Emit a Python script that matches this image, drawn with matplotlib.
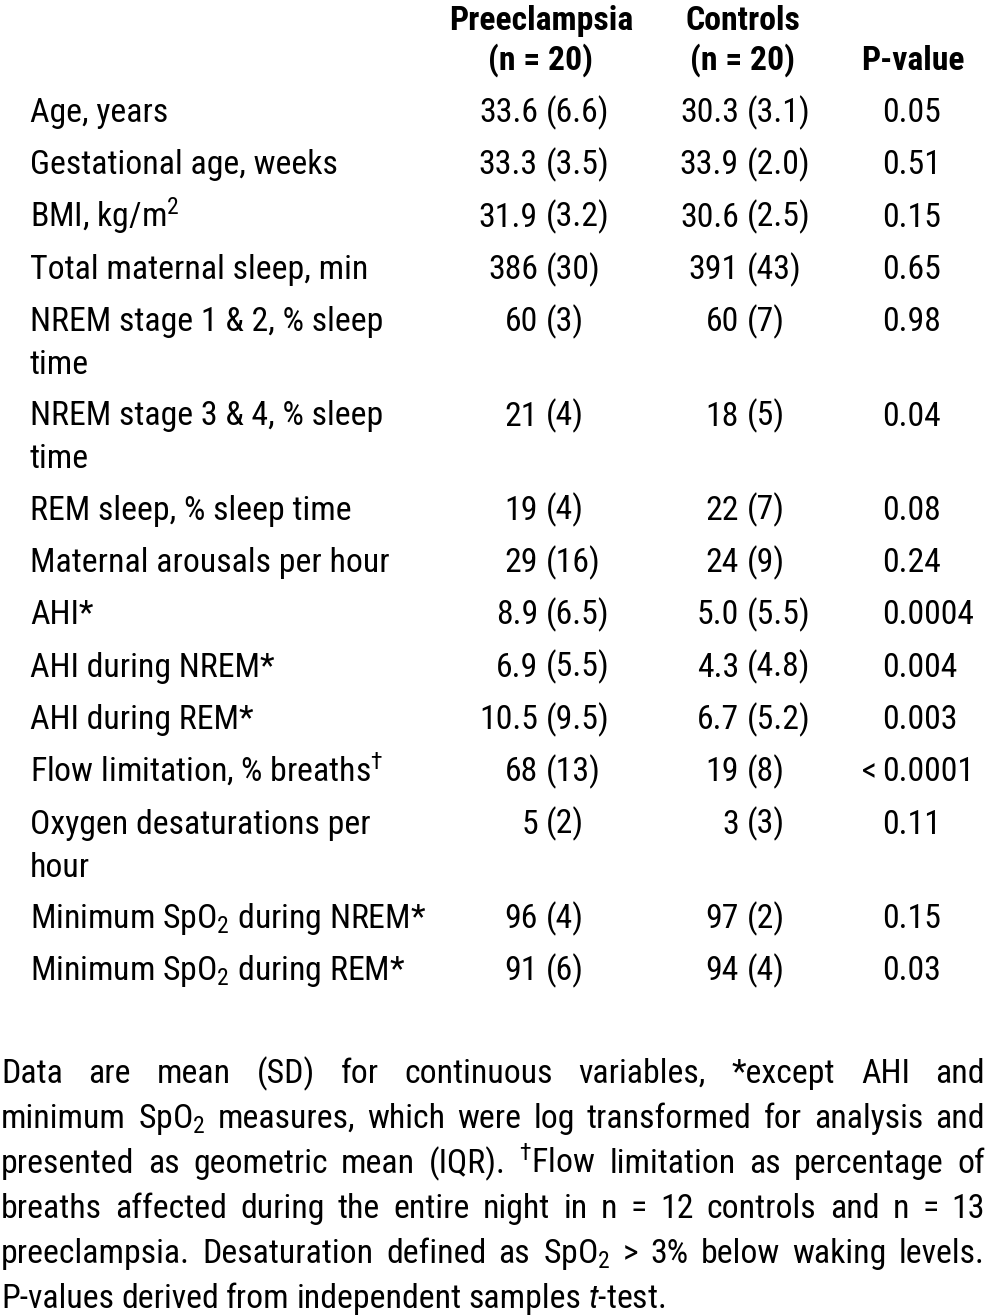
import matplotlib
matplotlib.use("Agg")
import matplotlib.pyplot as plt
from matplotlib import font_manager

# police étroite si disponible, sinon Liberation Sans un peu plus petite
noms = {f.name for f in font_manager.fontManager.ttflist}
police, fs = "Liberation Sans", 22
for nom in ["Liberation Sans Narrow", "Roboto Condensed", "Open Sans Condensed"]:
    if nom in noms:
        police, fs = nom, 24.3
        break
plt.rcParams['font.family'] = [police, 'DejaVu Sans']
plt.rcParams['mathtext.fontset'] = 'custom'
plt.rcParams['mathtext.rm'] = police
plt.rcParams['mathtext.it'] = police + ':italic'

# Données du tableau
variables = [
    "Age, years", "Gestational age, weeks", "BMI, kg/m$^2$",
    "Total maternal sleep, min", "NREM stage 1 & 2, % sleep\ntime",
    "NREM stage 3 & 4, % sleep\ntime", "REM sleep, % sleep time",
    "Maternal arousals per hour", "AHI*", "AHI during NREM*",
    "AHI during REM*", "Flow limitation, % breaths$^{†}$",
    "Oxygen desaturations per\nhour", "Minimum SpO$_2$ during NREM*",
    "Minimum SpO$_2$ during REM*",
]
preeclampsie = ["33.6 (6.6)", "33.3 (3.5)", "31.9 (3.2)", "386 (30)", "60 (3)",
                "21 (4)", "19 (4)", "29 (16)", "8.9 (6.5)", "6.9 (5.5)",
                "10.5 (9.5)", "68 (13)", "5 (2)", "96 (4)", "91 (6)"]
controles = ["30.3 (3.1)", "33.9 (2.0)", "30.6 (2.5)", "391 (43)", "60 (7)",
             "18 (5)", "22 (7)", "24 (9)", "5.0 (5.5)", "4.3 (4.8)",
             "6.7 (5.2)", "19 (8)", "3 (3)", "97 (2)", "94 (4)"]
p_valeurs = ["0.05", "0.51", "0.15", "0.65", "0.98", "0.04", "0.08", "0.24",
             "0.0004", "0.004", "0.003", "< 0.0001", "0.11", "0.15", "0.03"]

note = [
    "Data are mean (SD) for continuous variables, *except AHI and",
    "minimum SpO$_2$ measures, which were log transformed for analysis and",
    "presented as geometric mean (IQR). $^{†}$Flow limitation as percentage of",
    "breaths affected during the entire night in n = 12 controls and n = 13",
    "preeclampsia. Desaturation defined as SpO$_2$ > 3% below waking levels.",
    "P-values derived from independent samples $\\mathit{t}$-test.",
]

W, H = 987, 1316
fig = plt.figure(figsize=(W / 100, H / 100), dpi=100)


def txt(x, y, s, **kw):
    return fig.text(x / W, 1 - y / H, s, fontsize=fs, va='baseline', **kw)


# En-têtes
txt(541, 30, "Preeclampsia", ha='center', fontweight='bold')
txt(541, 70, "(n = 20)", ha='center', fontweight='bold')
txt(743, 30, "Controls", ha='center', fontweight='bold')
txt(743, 70, "(n = 20)", ha='center', fontweight='bold')
txt(913, 70, "P-value", ha='center', fontweight='bold')

# Lignes du tableau
y = 122
for i in range(len(variables)):
    lignes = variables[i].split("\n")
    txt(30, y, lignes[0], ha='left')
    for k, suite in enumerate(lignes[1:]):
        txt(30, y + 43 * (k + 1), suite, ha='left')

    # alignement sur la parenthèse ouvrante
    m, sd = preeclampsie[i].split(" ")
    txt(538, y, m, ha='right')
    txt(546, y, sd, ha='left')
    m, sd = controles[i].split(" ")
    txt(739, y, m, ha='right')
    txt(747, y, sd, ha='left')

    p = p_valeurs[i]
    if p.startswith("<"):
        txt(877, y, "<", ha='right')
        p = p[2:]
    txt(882, y, p, ha='left')

    y += 52.3 + 42 * (len(lignes) - 1)

# Note justifiée
fig.canvas.draw()
rend = fig.canvas.get_renderer()
gauche, droite = 1, 985
yb = 1083
for j, ligne in enumerate(note):
    mots = ligne.split(" ")
    objs = [txt(0, yb, m, ha='left') for m in mots]
    larg = [o.get_window_extent(rend).width for o in objs]
    if j < len(note) - 1:
        esp = (droite - gauche - sum(larg)) / (len(mots) - 1)
    else:
        esp = 7
    x = gauche
    for o, w in zip(objs, larg):
        o.set_x(x / W)
        x += w + esp
    yb += 45

fig.savefig("out.png", dpi=100)
